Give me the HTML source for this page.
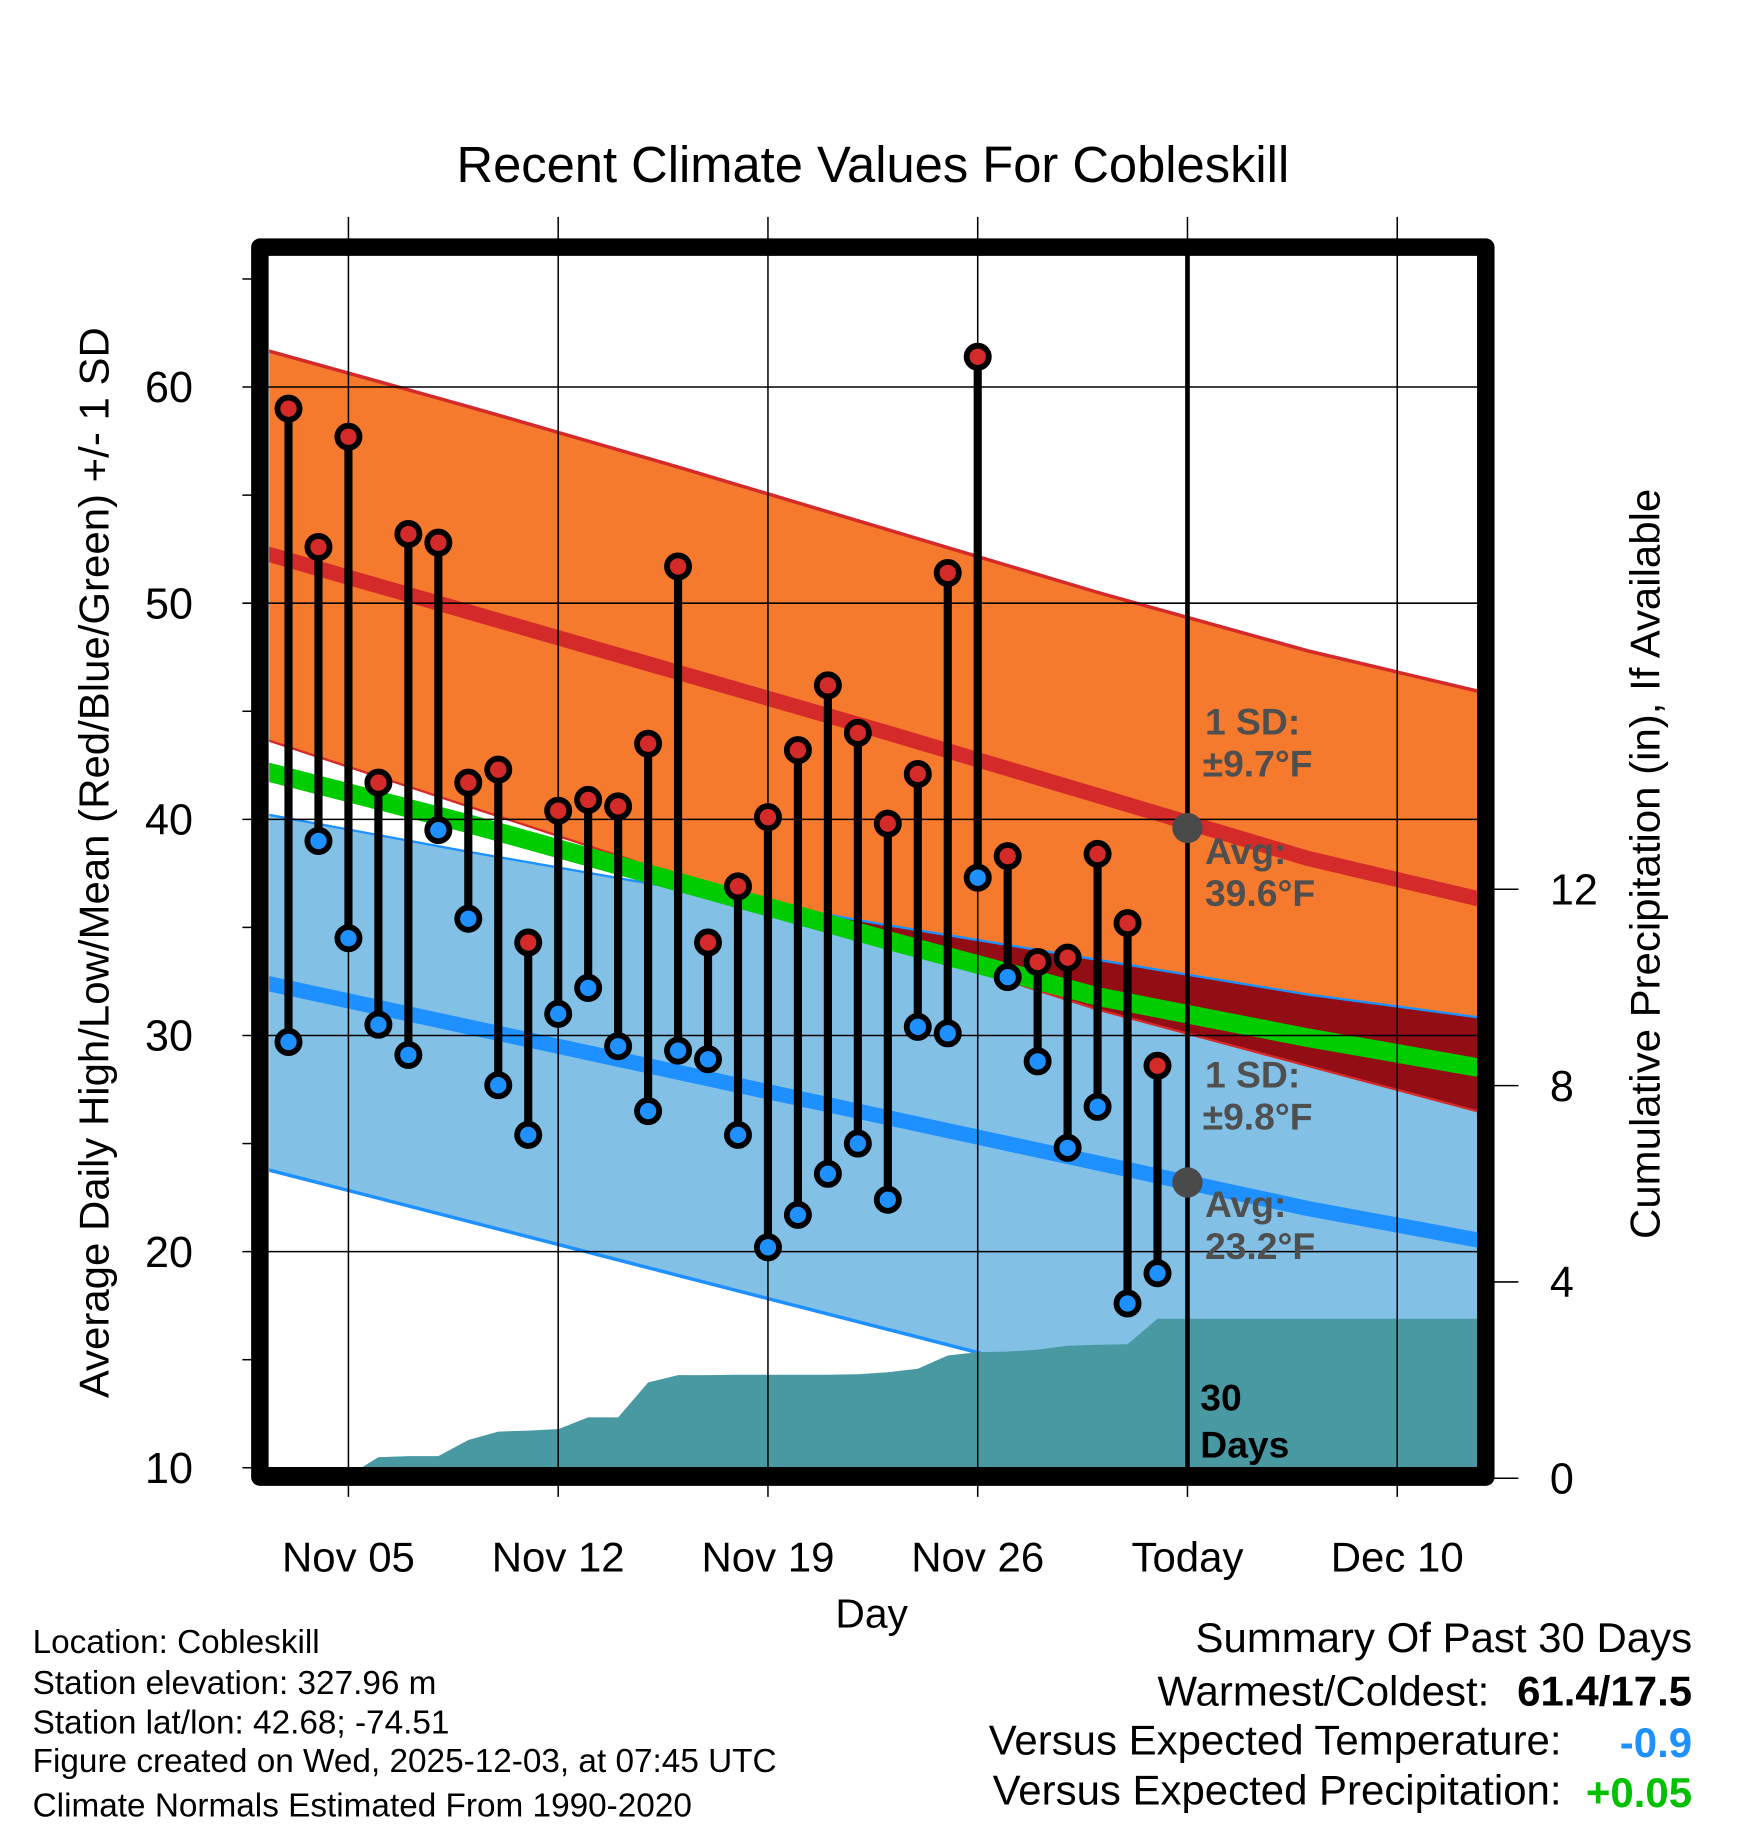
<!DOCTYPE html>
<html><head><meta charset="utf-8"><style>
html,body{margin:0;padding:0;background:#fff;}
svg{display:block;font-family:"Liberation Sans",sans-serif;}
</style></head><body>
<svg id="chart" width="1748" height="1828" viewBox="0 0 1500 1568" preserveAspectRatio="none" xmlns="http://www.w3.org/2000/svg">
<defs><clipPath id="plotclip"><rect x="231" y="219" width="1037" height="1041"/></clipPath></defs>
<g id="plot" clip-path="url(#plotclip)"></g>
<g id="overlay"></g>
<text x="749" y="156" font-size="43.5" text-anchor="middle">Recent Climate Values For Cobleskill</text>
<text transform="translate(93,740) rotate(-90)" font-size="36" text-anchor="middle">Average Daily High/Low/Mean (Red/Blue/Green) +/- 1 SD</text>
<text transform="translate(1424,741) rotate(-90)" font-size="36" text-anchor="middle">Cumulative Precipitation (in), If Available</text>
<text x="748" y="1396" font-size="35" text-anchor="middle">Day</text>
<g font-size="28.6">
<text x="28" y="1418">Location: Cobleskill</text>
<text x="28" y="1453">Station elevation: 327.96 m</text>
<text x="28" y="1487">Station lat/lon: 42.68; -74.51</text>
<text x="28" y="1520">Figure created on Wed, 2025-12-03, at 07:45 UTC</text>
<text x="28" y="1558">Climate Normals Estimated From 1990-2020</text>
</g>
<g font-size="36" text-anchor="end">
<text x="1452" y="1417">Summary Of Past 30 Days</text>
<text x="1278" y="1463">Warmest/Coldest:</text>
<text x="1452" y="1463" font-weight="bold">61.4/17.5</text>
<text x="1340" y="1505">Versus Expected Temperature:</text>
<text x="1452" y="1507" font-weight="bold" fill="#1e90ff">-0.9</text>
<text x="1340" y="1548">Versus Expected Precipitation:</text>
<text x="1452" y="1550" font-weight="bold" fill="#00c000">+0.05</text>
</g>
</svg>
<script>
// Data (day offset d = day of November; Dec 1 = 31)
const days=[3,4,5,6,7,8,9,10,11,12,13,14,15,16,17,18,19,20,21,22,23,24,25,26,27,28,29,30,31,32];
const highs=[59.0,52.6,57.7,41.7,53.2,52.8,41.7,42.3,34.3,40.4,40.9,40.6,43.5,51.7,34.3,36.9,40.1,43.2,46.2,44.0,39.8,42.1,51.4,61.4,38.3,33.4,33.6,38.4,35.2,28.6];
const lows=[29.7,39.0,34.5,30.5,29.1,39.5,35.4,27.7,25.4,31.0,32.2,29.5,26.5,29.3,28.9,25.4,20.2,21.7,23.6,25.0,22.4,30.4,30.1,37.3,32.7,28.8,24.8,26.7,17.6,19.0];
const precip=[0,0,0.05,0.43,0.45,0.45,0.78,0.95,0.97,1.0,1.24,1.24,1.95,2.1,2.1,2.11,2.11,2.11,2.11,2.12,2.16,2.23,2.5,2.57,2.58,2.62,2.7,2.72,2.73,3.25];
const normDays=[2,9,16,23,30,37,44];
const highMean=[52.4,49.6,46.8,44.0,41.1,38.2,35.9];
const highUpper=[61.8,59.1,56.3,53.4,50.5,47.8,45.5];
const highLower=[43.8,40.6,37.4,34.3,31.2,28.6,26.0];
const lowMean=[32.5,30.4,28.3,26.2,24.1,22.0,20.2];
const lowUpper=[40.3,38.5,36.8,35.1,33.5,31.9,30.6];
const lowLower=[23.9,21.4,18.9,16.4,13.9,11.4,9.0];
const avgMean=[42.3,39.8,37.1,34.4,31.8,29.9,28.2];
const xTicks=[5,12,19,26,33,40];
const xLabels=["Nov 05","Nov 12","Nov 19","Nov 26","Today","Dec 10"];
const yTicks=[10,20,30,40,50,60];
const y2Ticks=[0,4,8,12];
const todayDay=33;

const NS="http://www.w3.org/2000/svg";
const X=d=>299+(d-5)*180/7;
const Y=v=>1259-(v-10)*18.54;
const Y2=p=>1268-p*42.1;
const plot=document.getElementById('plot'), ov=document.getElementById('overlay');
function mk(tag,attrs,parent){const e=document.createElementNS(NS,tag);for(const k in attrs)e.setAttribute(k,attrs[k]);(parent||plot).appendChild(e);return e;}
const pts=(arr)=>normDays.map((d,i)=>X(d)+','+Y(arr[i]));
function band(up,lo){return pts(up).concat(pts(lo).reverse()).join(' ');}

let e;
e=mk('polygon',{points:band(highUpper,highLower),fill:'#f57a2e'});


e=mk('polygon',{points:band(lowUpper,lowLower),fill:'#82c0e6'});


const cp=mk('clipPath',{id:'lowclip'},document.querySelector('defs'));
mk('polygon',{points:band(lowUpper,lowLower)},cp);
e=mk('polygon',{points:band(highUpper,highLower),fill:'#930d14','clip-path':'url(#lowclip)'});


function line(arr,color,w,name){const l=mk('polyline',{points:pts(arr).join(' '),fill:'none',stroke:color,'stroke-width':w});

}
line(highUpper,'#d42a2a',3,'high-upper-line');
line(highLower,'#d42a2a',2,'high-lower-line');
line(lowUpper,'#1e90ff',2,'low-upper-line');
line(lowLower,'#1e90ff',3,'low-lower-line');
line(avgMean,'#00cc00',16,'mean-normal-line');
line(highMean,'#d42a2a',13,'high-normal-line');
line(lowMean,'#1e90ff',13,'low-normal-line');

// precipitation
let pp=[X(days[0])+','+Y2(0)];
days.forEach((d,i)=>pp.push(X(d)+','+Y2(precip[i])));
pp.push('1268,'+Y2(precip[precip.length-1]));pp.push('1268,1270');pp.push(X(days[0])+',1270');
e=mk('polygon',{points:pp.join(' '),fill:'#4899a1'});



// grid
yTicks.forEach(v=>{e=mk('line',{x1:208,x2:1268,y1:Y(v),y2:Y(v),stroke:'#000','stroke-width':1.3},ov);


const t=mk('text',{x:145,y:Y(v)+13,'font-size':37,'text-anchor':'middle'},ov);t.textContent=v;

});
for(let v=15;v<=65;v+=10){mk('line',{x1:208,x2:216,y1:Y(v),y2:Y(v),stroke:'#000','stroke-width':1.3},ov);}
xTicks.forEach((d,i)=>{e=mk('line',{x1:X(d),x2:X(d),y1:186,y2:1284,stroke:'#000','stroke-width':1.3},ov);


const t=mk('text',{x:X(d),y:1348,'font-size':36,'text-anchor':'middle'},ov);t.textContent=xLabels[i];

});
y2Ticks.forEach(p=>{mk('line',{x1:1276,x2:1303,y1:Y2(p),y2:Y2(p),stroke:'#000','stroke-width':1.3},ov);
const t=mk('text',{x:1330,y:Y2(p)+13,'font-size':37},ov);t.textContent=p;

});

// bars
days.forEach((d,i)=>{
 e=mk('line',{x1:X(d),x2:X(d),y1:Y(highs[i]),y2:Y(lows[i]),stroke:'#000','stroke-width':7},ov);
 
 
 e=mk('circle',{cx:X(d),cy:Y(highs[i]),r:9.5,fill:'#d42a2a',stroke:'#000','stroke-width':5},ov);
 
 
 e=mk('circle',{cx:X(d),cy:Y(lows[i]),r:9.5,fill:'#1e90ff',stroke:'#000','stroke-width':5},ov);
 
 
});
// today line
e=mk('line',{x1:X(todayDay),x2:X(todayDay),y1:219,y2:1260,stroke:'#000','stroke-width':4},ov);


const hm=39.6, lm=23.2;
mk('circle',{cx:X(todayDay),cy:Y(hm),r:13,fill:'#4a4a4a'},ov);
mk('circle',{cx:X(todayDay),cy:Y(lm),r:13,fill:'#4a4a4a'},ov);
function lab(txt,x,y,col,name){const t=mk('text',{x:x,y:y,'font-size':32,'font-weight':'bold',fill:col},ov);t.textContent=txt;

}
lab('1 SD:',1034,630,'#4f4f4f','high-sd-label');lab('±9.7°F',1032,666,'#4f4f4f','high-sd-value');
lab('Avg:',1034,741,'#4f4f4f','high-avg-label');lab('39.6°F',1034,777,'#4f4f4f','high-avg-value');
lab('1 SD:',1034,933,'#4f4f4f','low-sd-label');lab('±9.8°F',1032,969,'#4f4f4f','low-sd-value');
lab('Avg:',1034,1044,'#4f4f4f','low-avg-label');lab('23.2°F',1034,1080,'#4f4f4f','low-avg-value');
lab('30',1030,1210,'#000','days-count');lab('Days',1030,1250,'#000','days-label');
// frame
e=mk('rect',{x:223,y:212,width:1052,height:1055,fill:'none',stroke:'#000','stroke-width':15,'stroke-linejoin':'round'},ov);


</script>
</body></html>
